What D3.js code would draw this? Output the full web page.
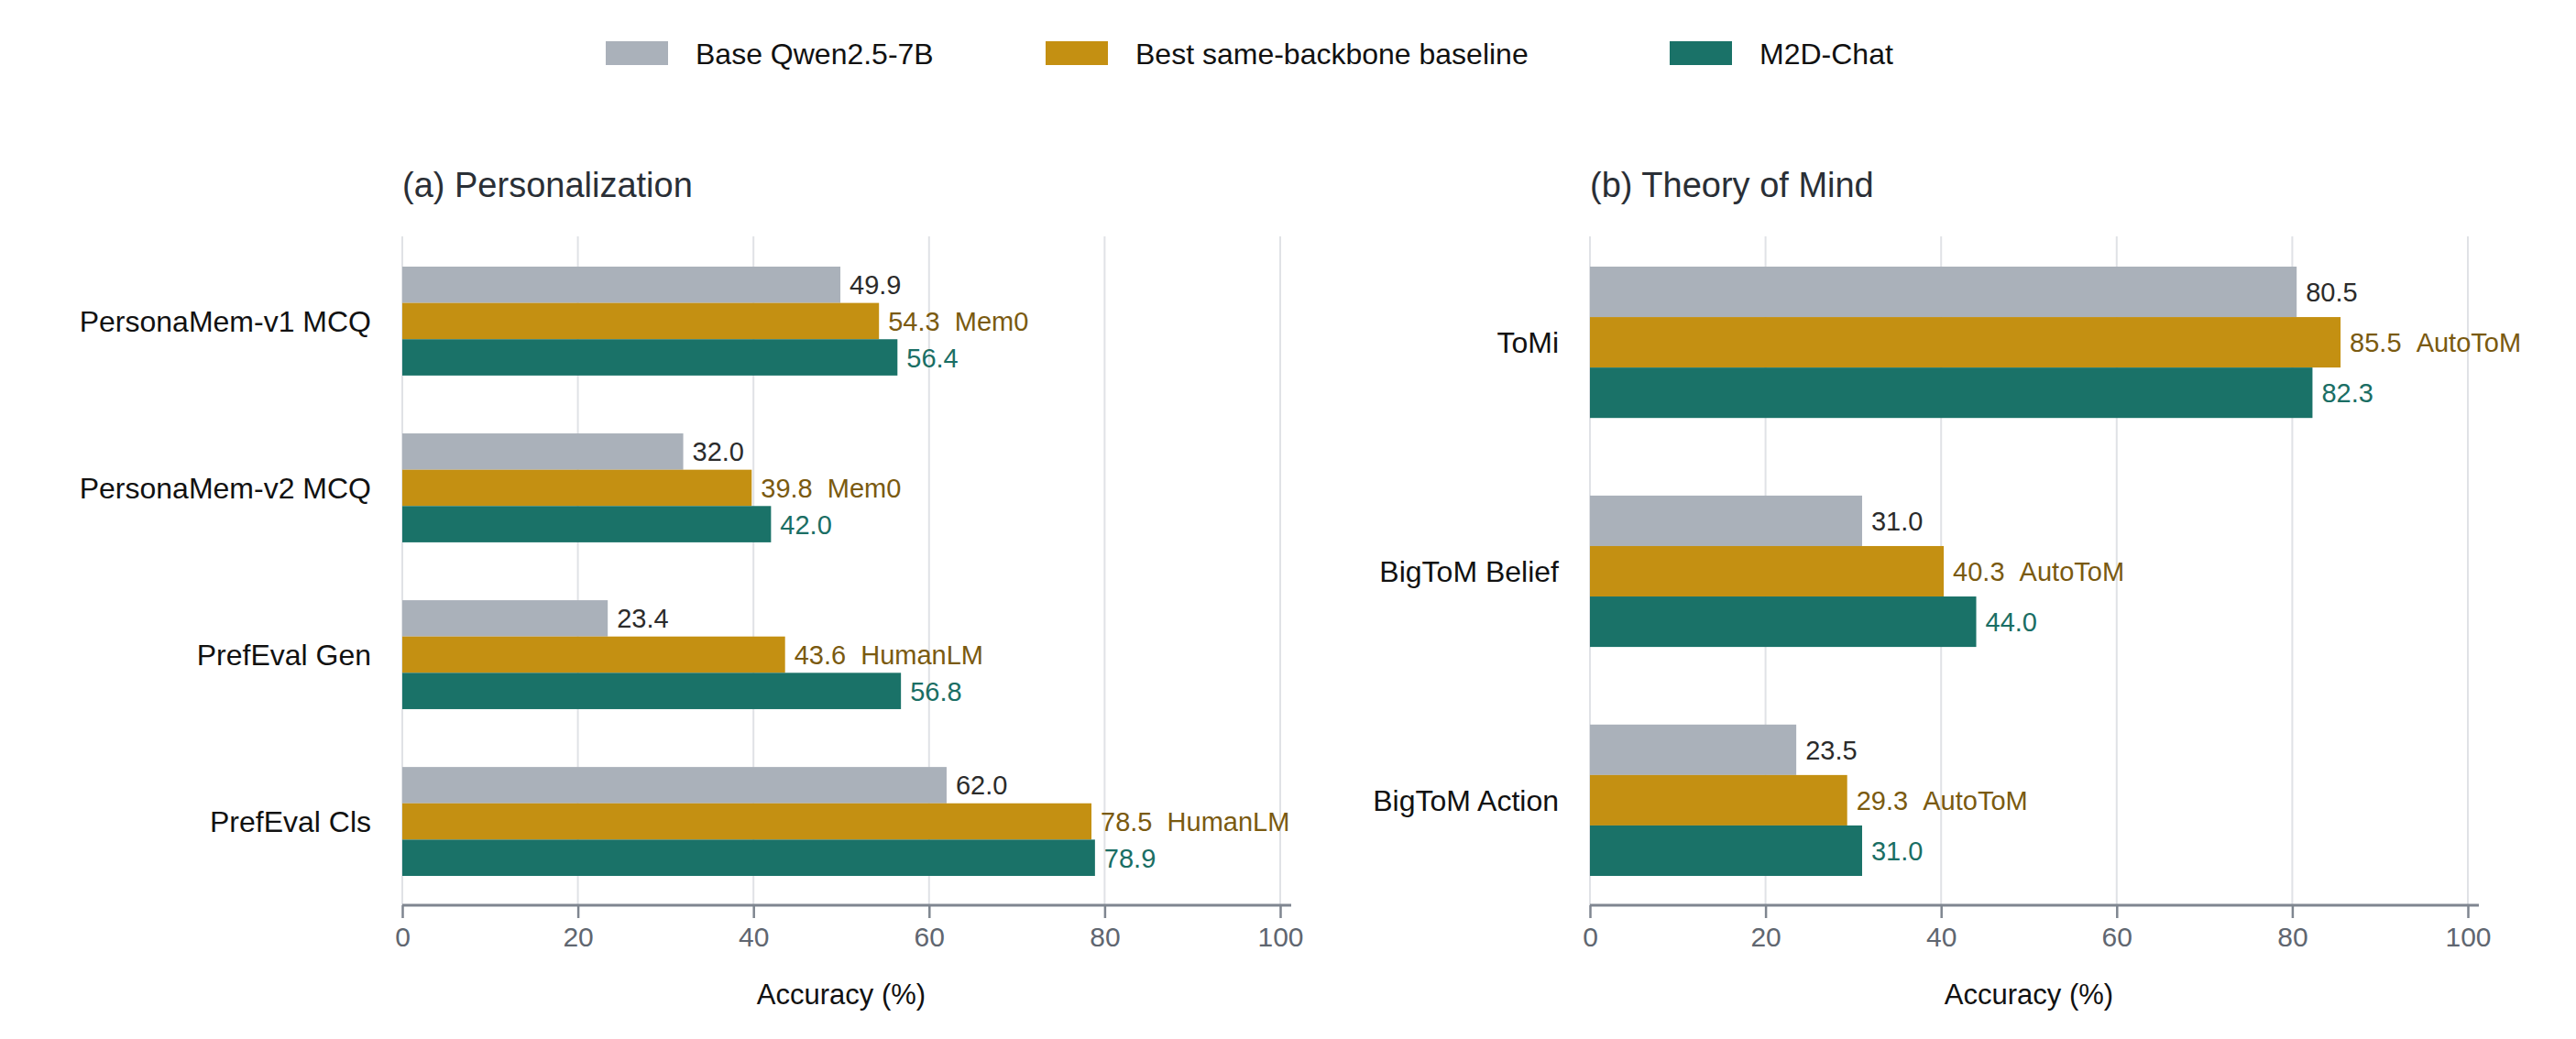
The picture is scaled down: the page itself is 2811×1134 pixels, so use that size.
<!DOCTYPE html>
<html><head><meta charset="utf-8">
<script src="https://cdn.jsdelivr.net/npm/d3@7"></script>
<style>body{margin:0;background:#fff}</style></head>
<body><svg id="c" width="2811" height="1134"></svg>
<script>
const seriesNames = ["Base Qwen2.5-7B","Best same-backbone baseline","M2D-Chat"];
const colors = ["#aab1ba","#c49012","#1a7268"];
const labelColors = ["#2b2b2b","#7a5a10","#1a6e64"];
const catsA = ["PersonaMem-v1 MCQ","PersonaMem-v2 MCQ","PrefEval Gen","PrefEval Cls"];
const baseA = [49.9,32.0,23.4,62.0];
const bestA = [54.3,39.8,43.6,78.5];
const bestNameA = ["Mem0","Mem0","HumanLM","HumanLM"];
const oursA = [56.4,42.0,56.8,78.9];
const catsB = ["ToMi","BigToM Belief","BigToM Action"];
const baseB = [80.5,31.0,23.5];
const bestB = [85.5,40.3,29.3];
const bestNameB = ["AutoToM","AutoToM","AutoToM"];
const oursB = [82.3,44.0,31.0];
const ticks = [0,20,40,60,80,100];

const svg = d3.select("#c");
const font = "Liberation Sans, Arial, sans-serif";

function panel(x0, title, cats, vals, names, pad){
  const x = d3.scaleLinear().domain([0,100]).range([x0, x0+958]);
  const y = d3.scaleBand().domain(cats).range([291, 956]).paddingInner(pad).paddingOuter(0);
  const sub = d3.scaleBand().domain([0,1,2]).range([0, y.bandwidth()]);
  const g = svg.append("g");
  g.selectAll("line.grid").data(ticks).join("line")
    .attr("x1",d=>x(d)).attr("x2",d=>x(d)).attr("y1",258).attr("y2",988)
    .attr("stroke","#e0e2e6").attr("stroke-width",2);
  cats.forEach((c,i)=>{
    vals.forEach((arr,s)=>{
      const yy = y(c)+sub(s);
      g.append("rect").attr("x",x(0)).attr("y",yy).attr("width",x(arr[i])-x(0)).attr("height",sub.bandwidth()).attr("fill",colors[s]);
      g.append("text").attr("x",x(arr[i])+10).attr("y",yy+sub.bandwidth()/2).attr("dy","0.36em")
        .attr("fill",labelColors[s]).attr("font-size",29).attr("font-family",font)
        .text(arr[i].toFixed(1)+(s===1?"\u00a0\u00a0"+names[i]:""));
    });
    g.append("text").attr("x",x0-34).attr("y",y(c)+y.bandwidth()/2).attr("dy","0.36em")
      .attr("text-anchor","end").attr("font-size",32).attr("font-family",font).attr("fill","#111").text(c);
  });
  const ax = g.append("g").attr("transform","translate(0,988)")
    .call(d3.axisBottom(x).tickValues(ticks).tickSize(14).tickPadding(10));
  ax.select(".domain").attr("stroke","#7f8690").attr("stroke-width",3).attr("d",`M${x0},0H${x0+970}`);
  ax.selectAll(".tick line").attr("stroke","#7f8690").attr("stroke-width",2.5);
  ax.selectAll(".tick text").attr("font-size",30).attr("font-family",font).attr("fill","#5f6670");
  g.append("text").attr("x",x0+479).attr("y",1096).attr("text-anchor","middle")
    .attr("font-size",31).attr("font-family",font).attr("fill","#111").text("Accuracy (%)");
  g.append("text").attr("x",x0).attr("y",215).attr("font-size",38).attr("font-family",font).attr("fill","#2a2f36").text(title);
}
panel(439,"(a) Personalization",catsA,[baseA,bestA,oursA],bestNameA,0.347);
panel(1735,"(b) Theory of Mind",catsB,[baseB,bestB,oursB],bestNameB,0.339);

const lx = [661,1141,1822];
seriesNames.forEach((n,i)=>{
  svg.append("rect").attr("x",lx[i]).attr("y",45).attr("width",68).attr("height",26).attr("fill",colors[i]);
  svg.append("text").attr("x",lx[i]+98).attr("y",58).attr("dy","0.36em").attr("font-size",32)
    .attr("font-family",font).attr("fill","#111").text(n);
});
</script></body></html>
